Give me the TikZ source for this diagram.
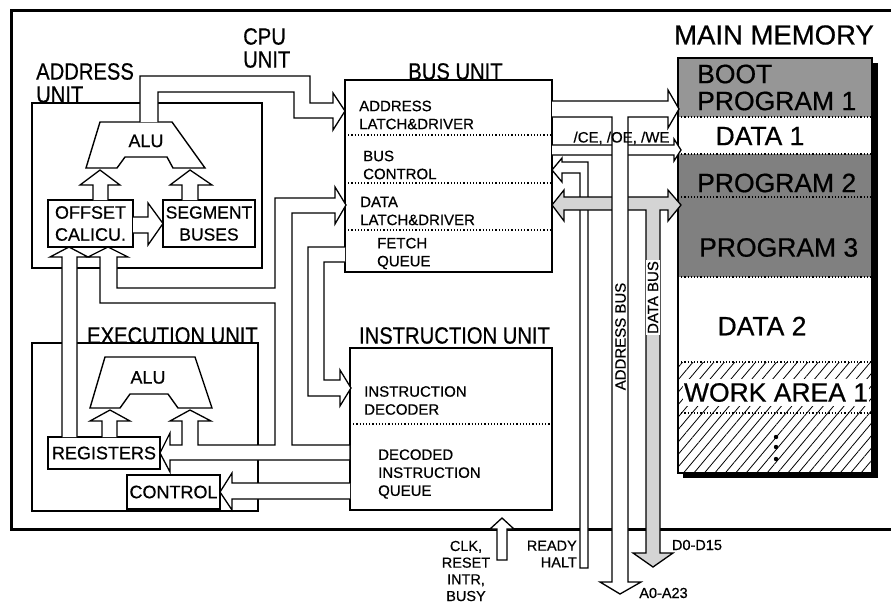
\documentclass[tikz,border=0pt]{standalone}
\usepackage{fontspec}
\setmainfont{Liberation Sans}[FakeBold=0.6]
\newfontfamily\tallfont{Liberation Sans}[FakeStretch=0.86, FakeBold=0.6]
\usetikzlibrary{patterns.meta}
\definecolor{bootgray}{RGB}{150,150,150}
\definecolor{proggray}{RGB}{128,128,128}
\definecolor{busgray}{RGB}{212,212,212}

\begin{document}
\begin{tikzpicture}[x=1pt, y=-1pt,
    unitbox/.style={draw, line width=1.4pt, inner sep=0pt, outer sep=0pt},
    innerbox/.style={draw, line width=1.4pt, inner sep=0pt, outer sep=0pt, fill=white},
    bus/.style={draw, line width=1.3pt, fill=white, line join=miter},
    alushape/.style={draw, line width=1.4pt, fill=white},
    smalltxt/.style={font=\fontsize{15}{18}\selectfont, align=left, inner sep=0pt},
    boxtxt/.style={font=\fontsize{18}{22}\selectfont, align=center, inner sep=0pt},
    unittxt/.style={font=\tallfont\fontsize{23.5}{23}\selectfont, align=left, inner sep=0pt},
    memtxt/.style={font=\fontsize{26.5}{27}\selectfont, align=left, inner sep=0pt},
    pintxt/.style={font=\fontsize{14.5}{16.7}\selectfont, inner sep=0pt},
    divider/.style={dotted, line width=1.2pt}]

\useasboundingbox (0,0) rectangle (891,603);

% CPU frame
\draw[line width=3pt] (891,10.5) -- (11.5,10.5) -- (11.5,529) -- (891,529);

% Main memory
\fill (683,63) rectangle (878,478);
\fill[white] (678,58) rectangle (872,473);
\fill[bootgray] (678,58) rectangle (872,117);
\fill[proggray] (678,154) rectangle (872,277);
\fill[pattern={Lines[angle=50, distance=8pt, line width=0.8pt]}] (678,362) rectangle (872,473);
\foreach \y in {117,154,197,277,362,413}
    \draw[divider] (678,\y) -- (872,\y);
\node[unitbox, minimum width=194pt, minimum height=415pt] (memory) at (775,265.5) {};

% Unit boxes
\node[unitbox, minimum width=230pt, minimum height=165pt] (addrunit) at (147,185.5) {};
\node[unitbox, minimum width=207pt, minimum height=192pt] (busunit) at (448.5,176) {};
\node[unitbox, minimum width=202pt, minimum height=162pt] (instunit) at (451,429) {};
\node[unitbox, minimum width=226pt, minimum height=168pt] (execunit) at (145,427) {};
\foreach \y in {135,183,230}
    \draw[divider] (busunit.west |- 0,\y) -- (busunit.east |- 0,\y);
\draw[divider] (instunit.west |- 0,424) -- (instunit.east |- 0,424);

% Inner blocks
\node[innerbox, boxtxt, minimum width=85pt, minimum height=47pt] (offset) at (90.5,223.5) {OFFSET\\CALICU.};
\node[innerbox, boxtxt, font=\fontsize{17.5}{22}\selectfont, minimum width=92pt, minimum height=47pt] (segment) at (209,223.5) {SEGMENT\\BUSES};
\node[innerbox, boxtxt, minimum width=112pt, minimum height=32pt] (registers) at (104,453) {REGISTERS};
\node[innerbox, boxtxt, minimum width=93pt, minimum height=34pt] (control) at (173.5,492) {CONTROL};

% ALUs
\draw[alushape] (100,122) -- (172,122) -- (205,168) -- (173,168) -- (167,157) -- (125,157) -- (117,168) -- (86,168) -- cycle;
\node[boxtxt] (alua) at (146,141) {ALU};
\draw[alushape] (105,357) -- (195,357) -- (212,408) -- (178,408) -- (168,394) -- (130,394) -- (120,408) -- (90,408) -- cycle;
\node[boxtxt] (alue) at (148,377.5) {ALU};

% Address ALU -> address latch
\draw[bus] (140,122) -- (140,76) -- (310,76) -- (310,103) -- (333,103) -- (333,93) -- (busunit.west |- 0,111)
    -- (333,130) -- (333,118) -- (294,118) -- (294,92) -- (158,92) -- (158,122);

% Offset / segment -> ALU
\draw[bus] (93,200) -- (93,185) -- (80,185) -- (100,170) -- (120,185) -- (108,185) -- (108,200);
\draw[bus] (182,200) -- (182,185) -- (170,185) -- (190,170) -- (212,185) -- (198,185) -- (198,200);
\draw[bus] (offset.east |- 0,217) -- (148,217) -- (148,203) -- (segment.west) -- (148,245) -- (148,233) -- (offset.east |- 0,233);

% Data latch -> offset, ALU, registers, instruction unit
\draw[bus] (346,205) -- (335,187) -- (335,198) -- (275,198) -- (275,288) -- (117,288) -- (117,257)
    -- (128,257) -- (108,247) -- (88,257) -- (100,257) -- (100,303) -- (275,303) -- (275,445)
    -- (198,445) -- (198,421) -- (211,421) -- (190,410) -- (170,421) -- (182,421) -- (182,445)
    -- (170,445) -- (170,433) -- (registers.east) -- (170,472) -- (170,460) -- (instunit.west |- 0,460)
    -- (instunit.west |- 0,445) -- (292,445) -- (292,213) -- (335,213) -- (335,224) -- cycle;

% Registers -> offset, ALU
\draw[bus] (62,437) -- (62,257) -- (50,257) -- (69,247) -- (88,257) -- (77,257) -- (77,437);
\draw[bus] (102,437) -- (102,421) -- (90,421) -- (110,410) -- (130,421) -- (117,421) -- (117,437);

% Fetch queue -> decoder
\draw[bus] (busunit.west |- 0,247) -- (308,247) -- (308,396) -- (340,396) -- (340,406) -- (351,388)
    -- (340,370) -- (340,380) -- (324,380) -- (324,262) -- (busunit.west |- 0,262);

% Decoded queue -> control
\draw[bus] (instunit.west |- 0,483) -- (232,483) -- (232,473) -- (control.east) -- (232,510) -- (232,499) -- (instunit.west |- 0,499);

% CLK, RESET
\draw[bus] (497,560) -- (497,529) -- (490,529) -- (502,518) -- (514,529) -- (507,529) -- (507,560) -- cycle;

% READY, HALT
\draw[bus] (busunit.east |- 0,170) -- (562,158) -- (562,162) -- (588,162) -- (588,568) -- (580,568)
    -- (580,173) -- (562,173) -- (562,182) -- cycle;

% Data bus
\draw[bus, fill=busgray] (busunit.east |- 0,205) -- (564,190) -- (564,197) -- (668,197) -- (668,190) -- (681,205)
    -- (668,221) -- (668,210) -- (660,210) -- (660,553) -- (673,553) -- (653,567) -- (633,553)
    -- (646,553) -- (646,210) -- (564,210) -- (564,221) -- cycle;

% /CE, /OE, /WE
\draw[bus] (busunit.east |- 0,145) -- (674,145) -- (674,139) -- (681,150) -- (674,161) -- (674,155) -- (busunit.east |- 0,155);

% Address bus
\draw[bus] (busunit.east |- 0,101) -- (668,101) -- (668,90) -- (679,109) -- (668,128) -- (668,117) -- (628,117)
    -- (628,582) -- (641,582) -- (620,594) -- (600,582) -- (612,582) -- (612,117) -- (busunit.east |- 0,117);

% Unit labels
\node[unittxt, anchor=west] (cpulbl) at (243,48) {CPU\\UNIT};
\node[unittxt, anchor=west] (addrlbl) at (36,83) {ADDRESS\\UNIT};
\node[unittxt] (buslbl) at (455.5,71.5) {BUS UNIT};
\node[unittxt] (execlbl) at (172.5,335.5) {EXECUTION UNIT};
\node[unittxt] (instlbl) at (454.5,335.5) {INSTRUCTION UNIT};

% Bus unit and instruction unit texts
\node[smalltxt, anchor=west] (addrlatch) at (359,115) {ADDRESS\\LATCH\&DRIVER};
\node[smalltxt, anchor=west] (busctrl) at (363,165) {BUS\\CONTROL};
\node[smalltxt, anchor=west] (datalatch) at (360,211) {DATA\\LATCH\&DRIVER};
\node[smalltxt, anchor=west] (fetchq) at (377,253.5) {FETCH\\QUEUE};
\node[smalltxt, anchor=west] (decoder) at (364,400.5) {INSTRUCTION\\DECODER};
\node[smalltxt, anchor=west] (decodedq) at (378,474) {DECODED\\INSTRUCTION\\QUEUE};

% Bus labels
\node[smalltxt] (celbl) at (621.5,138) {/CE, /OE, /WE};
\node[smalltxt, rotate=90] (abuslbl) at (620.5,336.5) {ADDRESS BUS};
\node[smalltxt, rotate=90, fill=white, inner sep=1.5pt] (dbuslbl) at (653,297.5) {DATA BUS};
\node[pintxt, align=center] (clklbl) at (466,571) {CLK,\\RESET\\INTR,\\BUSY};
\node[pintxt, align=right, anchor=east] (readylbl) at (577,554) {READY\\HALT};
\node[pintxt] (albl) at (663.5,593) {A0-A23};
\node[pintxt] (dlbl) at (697,545) {D0-D15};

% Memory labels
\node[memtxt, font=\fontsize{27.5}{28}\selectfont] (memlbl) at (774,35) {MAIN MEMORY};
\node[memtxt, anchor=west] (boot) at (697,87.5) {BOOT\\PROGRAM 1};
\node[memtxt] (data1) at (760,136) {DATA 1};
\node[memtxt, anchor=west] (prog2) at (697,183) {PROGRAM 2};
\node[memtxt, anchor=west] (prog3) at (699,247.5) {PROGRAM 3};
\node[memtxt] (data2) at (762,326) {DATA 2};
\node[memtxt, fill=white, inner xsep=1pt, inner ysep=4pt] (work1) at (776,392.5) {WORK AREA 1};
\foreach \y in {437,447,459}
    \fill (776,\y) circle (2.2pt);
\end{tikzpicture}
\end{document}
